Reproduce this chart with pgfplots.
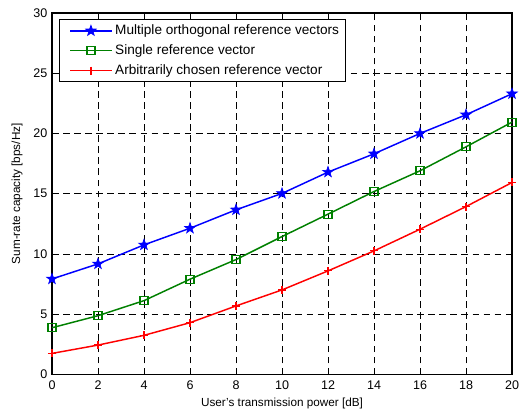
\documentclass[border=0pt]{standalone}
\usepackage{pgfplots}
\pgfplotsset{compat=1.18}
\usepackage{fontspec}
\setmainfont{Liberation Sans}
\pgfdeclareplotmark{pent}{%
  \pgfpathmoveto{\pgfpointpolar{90}{\pgfplotmarksize}}%
  \pgfpathlineto{\pgfpointpolar{126}{0.4\pgfplotmarksize}}%
  \pgfpathlineto{\pgfpointpolar{162}{\pgfplotmarksize}}%
  \pgfpathlineto{\pgfpointpolar{198}{0.4\pgfplotmarksize}}%
  \pgfpathlineto{\pgfpointpolar{234}{\pgfplotmarksize}}%
  \pgfpathlineto{\pgfpointpolar{270}{0.4\pgfplotmarksize}}%
  \pgfpathlineto{\pgfpointpolar{306}{\pgfplotmarksize}}%
  \pgfpathlineto{\pgfpointpolar{342}{0.4\pgfplotmarksize}}%
  \pgfpathlineto{\pgfpointpolar{18}{\pgfplotmarksize}}%
  \pgfpathlineto{\pgfpointpolar{54}{0.4\pgfplotmarksize}}%
  \pgfpathclose
  \pgfusepathqfillstroke
}
\definecolor{mblue}{RGB}{0,0,255}
\definecolor{mgreen}{RGB}{0,128,0}
\definecolor{mred}{RGB}{255,0,0}
\begin{document}
\begin{tikzpicture}
\begin{axis}[
  scale only axis, width=345pt, height=271pt,
  xmin=0, xmax=20, ymin=0, ymax=30,
  xtick={0,2,...,20}, ytick={0,5,...,30},
  grid=major,
  major grid style={black, line width=0.6pt, dash pattern=on 5pt off 3.3pt},
  tick align=inside, xtick pos=both, ytick pos=both,
  major tick length=4pt,
  axis line style={black, line width=0.8pt},
  every tick/.style={black, line width=0.6pt},
  /pgf/number format/assume math mode=true,
  tick label style={font=\fontsize{9.4}{11}\selectfont},
  xticklabel style={yshift=-1pt},
  label style={font=\fontsize{8.8}{10}\selectfont},
  xlabel={User's transmission power [dB]},
  ylabel={Sum-rate capacity [bps/Hz]},
  xlabel style={at={(axis description cs:0.5,-0.080)}, anchor=center},
  ylabel style={at={(axis description cs:-0.076,0.5)}, anchor=center},
  legend style={at={(0.015,0.983)}, anchor=north west, draw=black, line width=0.6pt, fill=white,
    font=\fontsize{10.2}{12}\selectfont, row sep=2pt, inner xsep=3pt, inner ysep=2pt},
  legend cell align=left,
  every axis plot/.append style={line width=1.1pt,
    legend image code/.code={\path (-0.16cm,0cm); \draw[line width=1.1pt, mark repeat=2, mark phase=2] plot coordinates {(0cm,0cm) (0.55cm,0cm) (1.1cm,0cm)};}},
  clip=false,
]
\addplot[mblue, mark=pent, mark size=4.2pt, mark options={solid, draw=mblue, fill=mblue, line width=0.5pt}] coordinates {
(0,7.92) (2,9.17) (4,10.75) (6,12.13) (8,13.66) (10,15.02) (12,16.79) (14,18.31) (16,20.0) (18,21.55) (20,23.3)};
\addlegendentry{Multiple orthogonal reference vectors}
\addplot[mgreen, mark=square, mark size=3pt, mark options={solid, draw=mgreen, line width=0.9pt}] coordinates {
(0,3.87) (2,4.87) (4,6.12) (6,7.9) (8,9.53) (10,11.44) (12,13.3) (14,15.18) (16,16.9) (18,18.89) (20,20.94)};
\addlegendentry{Single reference vector}
\addplot[mred, mark=+, mark size=3pt, mark options={solid, draw=mred, line width=0.9pt}] coordinates {
(0,1.74) (2,2.43) (4,3.24) (6,4.29) (8,5.68) (10,7.01) (12,8.59) (14,10.25) (16,12.05) (18,13.93) (20,15.93)};
\addlegendentry{Arbitrarily chosen reference vector}
\path (rel axis cs:-0.113,-0.105) rectangle (rel axis cs:1.0304,1.036);
\end{axis}
\end{tikzpicture}
\end{document}
